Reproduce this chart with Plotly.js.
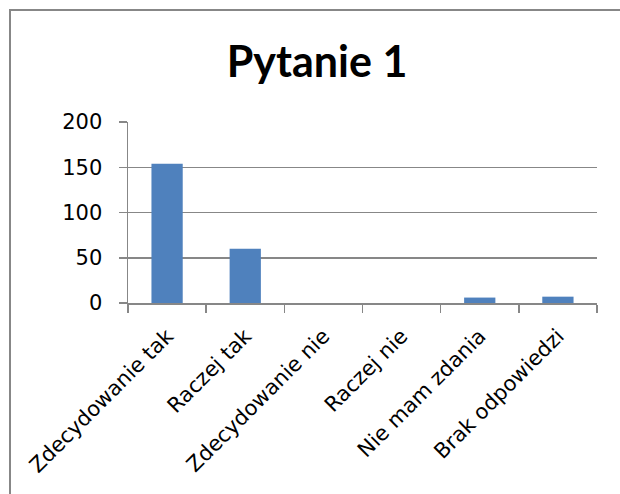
<!DOCTYPE html>
<html>
<head>
<meta charset="utf-8">
<script src="https://cdn.plot.ly/plotly-3.0.1.min.js"></script>
<style>
  html, body { margin: 0; padding: 0; background: #ffffff; overflow: hidden; }
  #chart { position: absolute; left: 0; top: 0; width: 620px; height: 494px; }
  #frame { position: absolute; left: 9px; top: 9px; width: 700px; height: 600px;
           border-left: 2px solid #878787; border-top: 2px solid #878787; pointer-events: none; }
</style>
</head>
<body>
<div id="chart"></div>
<div id="frame"></div>
<script>
const chartTitle = "Pytanie 1";
const categories = ["Zdecydowanie tak", "Raczej tak", "Zdecydowanie nie", "Raczej nie", "Nie mam zdania", "Brak odpowiedzi"];
const values = [154, 60, 0, 0, 6, 7];
const yTicks = [0, 50, 100, 150, 200];

const gray = "#878787";

const data = [{
  type: "bar",
  x: categories,
  y: values,
  marker: { color: "#4F81BD", line: { width: 0 } },
  hoverinfo: "x+y"
}];

const layout = {
  width: 620,
  height: 494,
  margin: { l: 128, r: 23, t: 122, b: 191, pad: 0 },
  paper_bgcolor: "#ffffff",
  plot_bgcolor: "#ffffff",
  showlegend: false,
  bargap: 0.6,
  title: {
    text: "<b>" + chartTitle + "</b>",
    font: { family: "Lato", size: 43, color: "#000000" },
    xref: "container", yref: "container",
    x: 317 / 620, xanchor: "center",
    y: 1 - 62 / 494, yanchor: "middle"
  },
  xaxis: {
    type: "category",
    showline: true, linecolor: gray, linewidth: 1.5,
    ticks: "outside", tickson: "boundaries", ticklen: 8, tickcolor: gray, tickwidth: 1.5,
    tickangle: -45,
    ticklabelstandoff: 11,
    tickfont: { family: "DejaVu Sans", size: 21, color: "#000000" },
    showgrid: false, zeroline: false, fixedrange: true
  },
  yaxis: {
    range: [0, 200],
    tickvals: yTicks,
    ticktext: yTicks.map(String),
    showline: true, linecolor: gray, linewidth: 1.5,
    ticks: "outside", ticklen: 8, tickcolor: gray, tickwidth: 1.5,
    ticklabelstandoff: 12,
    showgrid: true, gridcolor: gray, gridwidth: 1.5,
    zeroline: false,
    tickfont: { family: "DejaVu Sans", size: 21, color: "#000000" },
    fixedrange: true
  }
};

Plotly.newPlot("chart", data, layout, { displayModeBar: false, staticPlot: true });
</script>
</body>
</html>
